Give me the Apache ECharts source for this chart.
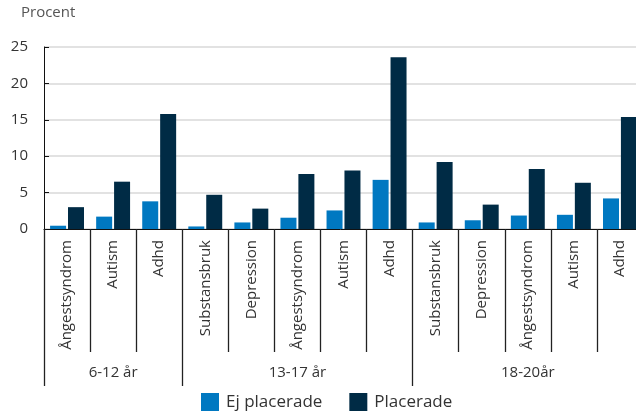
<!DOCTYPE html>
<html>
<head>
<meta charset="utf-8">
<script src="https://cdn.jsdelivr.net/npm/echarts@6/dist/echarts.min.js"></script>
<style>html,body{margin:0;padding:0;background:#fff;}#c{width:636px;height:414px;}</style>
</head>
<body>
<div id="c"></div>
<script>
var categories = ['Ångestsyndrom','Autism','Adhd','Substansbruk','Depression','Ångestsyndrom','Autism','Adhd','Substansbruk','Depression','Ångestsyndrom','Autism','Adhd'];
var ejPlacerade = [0.45, 1.7, 3.8, 0.35, 0.9, 1.55, 2.55, 6.75, 0.9, 1.2, 1.85, 1.95, 4.2];
var placerade = [3.0, 6.5, 15.8, 4.7, 2.8, 7.55, 8.05, 23.6, 9.2, 3.35, 8.25, 6.35, 15.4];
var groupNames = ['6-12 år', '13-17 år', '18-20år'];
var groupSizes = [3, 5, 5];
var yTicks = [0, 5, 10, 15, 20, 25];

var groupAxisData = [];
var groupBoundaries = {};
var idx = 0;
groupNames.forEach(function (g, gi) {
  groupBoundaries[idx] = true;
  for (var k = 0; k < groupSizes[gi]; k++) {
    groupAxisData.push(k === Math.floor(groupSizes[gi] / 2) ? g : '');
  }
  idx += groupSizes[gi];
});
groupBoundaries[idx] = true;

var font = '"Open Sans", sans-serif';
var chart = echarts.init(document.getElementById('c'), null, {renderer: 'canvas'});
chart.setOption({
  animation: false,
  textStyle: {fontFamily: font},
  title: {
    text: 'Procent', left: 16, top: 0,
    textStyle: {fontFamily: font, fontSize: 15, fontWeight: 'normal', color: '#555'}
  },
  grid: {left: 44, top: 47, width: 599, height: 182, containLabel: false, outerBoundsMode: 'none'},
  legend: {
    left: 196, top: 388,
    itemWidth: 18, itemHeight: 18, itemGap: 27,
    icon: 'rect',
    textStyle: {fontFamily: font, fontSize: 17, color: '#333', padding: [0, 0, 0, 2]},
    data: ['Ej placerade', 'Placerade']
  },
  xAxis: [{
    type: 'category',
    data: categories,
    position: 'bottom',
    axisLine: {show: true, lineStyle: {color: '#111', width: 1}},
    axisTick: {show: true, interval: 0, length: 123, lineStyle: {color: '#222', width: 1.3}},
    axisLabel: {interval: 0, rotate: 90, margin: 11, fontSize: 15, color: '#333', fontFamily: font},
    splitLine: {show: false}
  }, {
    type: 'category',
    data: groupAxisData,
    position: 'bottom',
    offset: 123,
    axisLine: {show: false},
    axisTick: {
      show: true, length: 34,
      interval: function (i) { return !!groupBoundaries[i]; },
      lineStyle: {color: '#222', width: 1.3}
    },
    axisLabel: {interval: 0, margin: 13, fontSize: 15, color: '#333', fontFamily: font},
    splitLine: {show: false}
  }],
  yAxis: {
    type: 'value',
    min: yTicks[0], max: yTicks[yTicks.length - 1], interval: 5,
    axisLine: {show: true, lineStyle: {color: '#111', width: 1}},
    axisTick: {show: true, inside: true, length: 5, lineStyle: {color: '#111'}},
    axisLabel: {margin: 16, fontSize: 15, color: '#333', fontFamily: font},
    splitLine: {show: true, lineStyle: {color: '#d9d9d9', width: 1.5}}
  },
  series: [{
    name: 'Ej placerade', type: 'bar', data: ejPlacerade,
    barWidth: 16, barGap: '12%',
    itemStyle: {color: '#0078c1'}
  }, {
    name: 'Placerade', type: 'bar', data: placerade,
    barWidth: 16, barGap: '12%',
    itemStyle: {color: '#002b45'}
  }]
});
</script>
</body>
</html>
